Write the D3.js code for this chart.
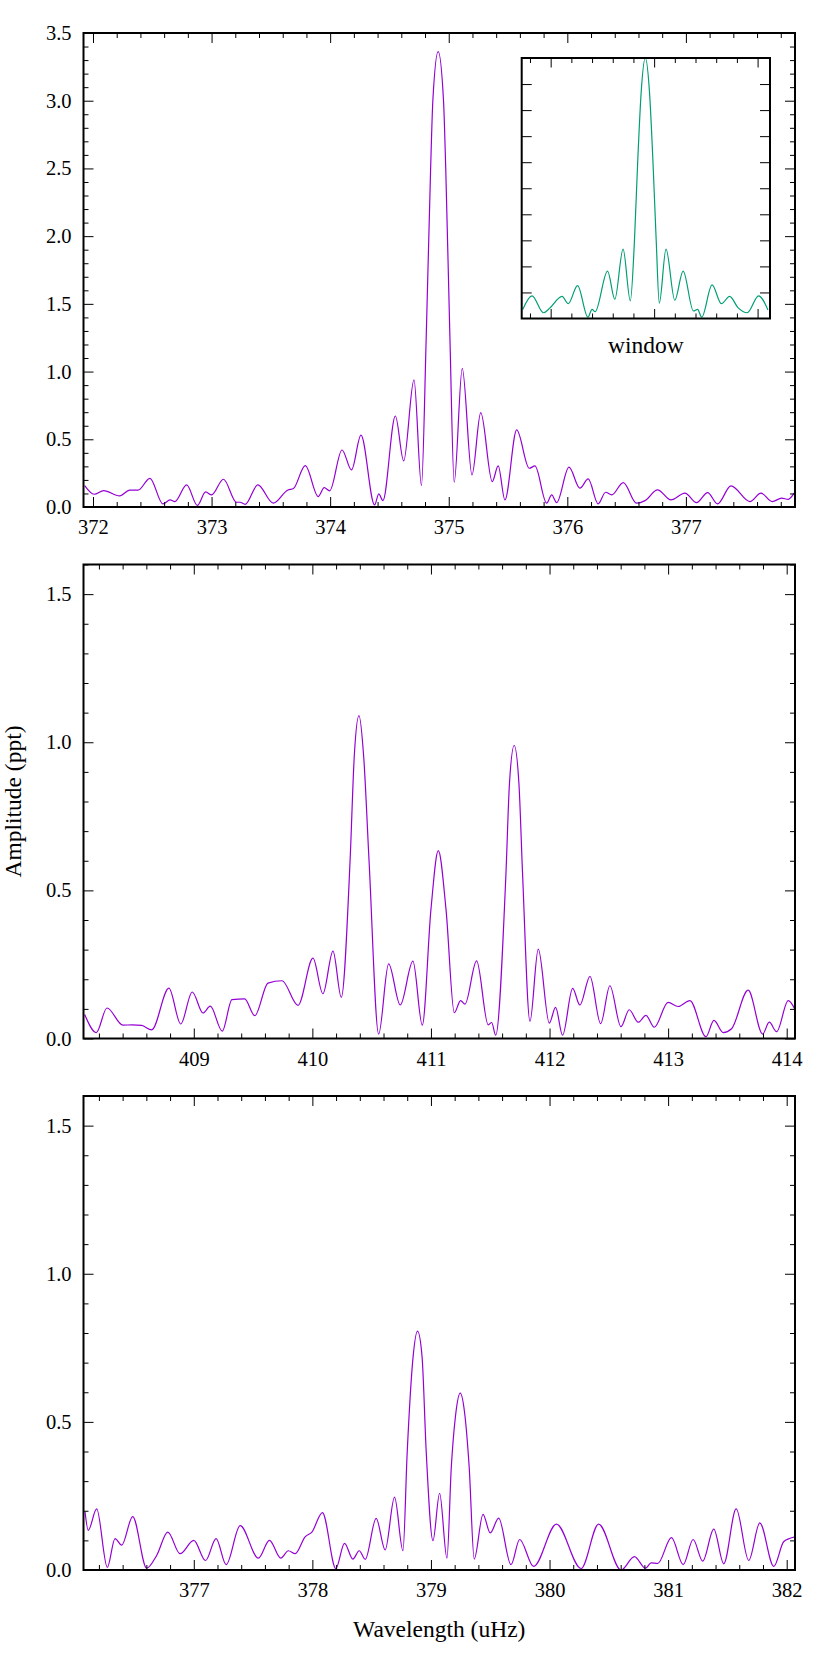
<!DOCTYPE html>
<html>
<head>
<meta charset="utf-8">
<script src="https://cdn.jsdelivr.net/npm/d3@7"></script>
<style>
  body { margin: 0; background: #fff; }
  svg text { font-family: "Liberation Serif", "DejaVu Serif", "Times New Roman", Times, serif; fill: #000; }
</style>
</head>
<body>
<div id="app"></div>
<script>
// ---- data ----
// top panel: amplitude spectrum around 374.9 uHz
const freq1 = [371.93, 372.01, 372.09, 372.225, 372.31, 372.38, 372.48, 372.59, 372.65, 372.69,
  372.79, 372.88, 372.95, 373.0, 373.10, 373.21, 373.24, 373.284, 373.39, 373.52,
  373.644, 373.69, 373.79, 373.90, 373.95, 373.996, 374.10, 374.18, 374.26, 374.375,
  374.41, 374.445, 374.55, 374.62, 374.707, 374.77, 374.81, 374.847, 374.866, 374.911,
  374.956, 374.975, 375.01, 375.046, 375.114, 375.196, 375.27, 375.367, 375.417, 375.474,
  375.573, 375.679, 375.727, 375.826, 375.868, 375.91, 376.014, 376.106, 376.176, 376.26,
  376.323, 376.374, 376.472, 376.584, 376.655, 376.761, 376.874, 376.992, 377.09, 377.183,
  377.267, 377.38, 377.54, 377.633, 377.728, 377.807, 377.863, 377.913];
const amp1 = [0.158, 0.094, 0.121, 0.082, 0.124, 0.124, 0.212, 0.023, 0.052, 0.04,
  0.163, 0.012, 0.111, 0.089, 0.205, 0.035, 0.035, 0.02, 0.163, 0.028,
  0.126, 0.136, 0.306, 0.077, 0.143, 0.119, 0.421, 0.274, 0.53, 0.015,
  0.097, 0.047, 0.672, 0.34, 0.938, 0.158, 1.25, 2.49, 3.0, 3.363,
  3.0, 2.49, 1.25, 0.183, 1.024, 0.237, 0.697, 0.188, 0.303, 0.052,
  0.569, 0.286, 0.303, 0.028, 0.089, 0.032, 0.294, 0.139, 0.207, 0.023,
  0.109, 0.089, 0.18, 0.028, 0.047, 0.126, 0.052, 0.102, 0.032, 0.106,
  0.023, 0.156, 0.04, 0.102, 0.04, 0.065, 0.057, 0.102];

// middle panel: triplet around 411 uHz
const freq2 = [408.08, 408.178, 408.268, 408.403, 408.48, 408.56, 408.645, 408.79, 408.89, 408.987,
  409.078, 409.139, 409.24, 409.322, 409.429, 409.514, 409.626, 409.744, 409.879, 410.005,
  410.089, 410.174, 410.244, 410.318, 410.353, 410.393, 410.433, 410.478, 410.559, 410.643,
  410.741, 410.848, 410.927, 411.0, 411.062, 411.127, 411.197, 411.25, 411.287, 411.385,
  411.483, 411.512, 411.546, 411.632, 411.662, 411.702, 411.742, 411.773, 411.835, 411.905,
  411.998, 412.051, 412.11, 412.195, 412.256, 412.341, 412.431, 412.509, 412.602, 412.672,
  412.748, 412.813, 412.883, 413.0, 413.085, 413.184, 413.319, 413.386, 413.465, 413.535,
  413.675, 413.797, 413.853, 413.915, 414.013, 414.069];
const amp2 = [0.081, 0.02, 0.103, 0.045, 0.046, 0.044, 0.029, 0.17, 0.049, 0.157,
  0.086, 0.109, 0.025, 0.131, 0.134, 0.077, 0.187, 0.195, 0.112, 0.271,
  0.151, 0.295, 0.139, 0.6, 0.95, 1.09, 0.95, 0.6, 0.015, 0.252,
  0.113, 0.261, 0.045, 0.436, 0.634, 0.436, 0.087, 0.128, 0.116, 0.262,
  0.046, 0.054, 0.011, 0.552, 0.86, 0.989, 0.86, 0.552, 0.058, 0.302,
  0.052, 0.105, 0.011, 0.169, 0.113, 0.21, 0.05, 0.178, 0.04, 0.097,
  0.055, 0.078, 0.038, 0.122, 0.108, 0.128, 0.006, 0.061, 0.02, 0.033,
  0.163, 0.015, 0.055, 0.023, 0.128, 0.099];

// bottom panel: doublet around 379 uHz
const freq3 = [376.083, 376.11, 376.181, 376.271, 376.336, 376.392, 376.485, 376.603, 376.688, 376.781,
  376.884, 377.0, 377.099, 377.188, 377.273, 377.391, 377.545, 377.638, 377.734, 377.798,
  377.855, 377.939, 377.996, 378.085, 378.198, 378.271, 378.342, 378.395, 378.446, 378.538,
  378.614, 378.693, 378.764, 378.80, 378.845, 378.887, 378.925, 378.96, 379.017, 379.073,
  379.135, 379.172, 379.207, 379.247, 379.287, 379.322, 379.365, 379.439, 379.5, 379.571,
  379.675, 379.748, 379.866, 380.058, 380.266, 380.414, 380.603, 380.716, 380.809, 380.857,
  380.912, 381.028, 381.127, 381.211, 381.292, 381.385, 381.469, 381.574, 381.68, 381.773,
  381.891, 381.976, 382.074];
const amp3 = [0.196, 0.134, 0.206, 0.009, 0.106, 0.084, 0.18, 0.006, 0.05, 0.128,
  0.055, 0.1, 0.032, 0.106, 0.018, 0.15, 0.04, 0.1, 0.04, 0.065,
  0.055, 0.112, 0.128, 0.194, 0.005, 0.09, 0.037, 0.065, 0.036, 0.174,
  0.068, 0.246, 0.065, 0.40, 0.70, 0.806, 0.72, 0.40, 0.099, 0.259,
  0.04, 0.35, 0.52, 0.597, 0.52, 0.35, 0.037, 0.188, 0.125, 0.175,
  0.018, 0.103, 0.012, 0.155, 0.005, 0.155, 0.0, 0.045, 0.006, 0.024,
  0.022, 0.109, 0.018, 0.103, 0.03, 0.138, 0.021, 0.206, 0.032, 0.159,
  0.012, 0.096, 0.112];

// inset: spectral window centred on the main peak
const winFreq = [373.73, 373.82, 373.93, 373.99, 374.11, 374.17, 374.26, 374.36, 374.40, 374.43,
  374.55, 374.62, 374.70, 374.77, 374.81, 374.84, 374.875, 374.915, 374.955, 374.99,
  375.02, 375.05, 375.115, 375.2, 375.28, 375.38, 375.42, 375.46, 375.56, 375.65,
  375.73, 375.81, 375.9, 376.01, 376.10];
const winAmp = [0.035, 0.087, 0.022, 0.039, 0.085, 0.057, 0.126, 0.005, 0.035, 0.026,
  0.182, 0.074, 0.266, 0.068, 0.30, 0.59, 0.87, 1.0, 0.87, 0.59,
  0.30, 0.059, 0.266, 0.07, 0.182, 0.029, 0.035, 0.005, 0.129, 0.057,
  0.085, 0.042, 0.022, 0.087, 0.033];

// axis ranges and tick labels
const xDomains = [[371.92, 377.92], [408.07, 414.07], [376.07, 382.07]];
const yMaxes = [3.5, 1.6, 1.6];
const yLabels1 = [0, 0.5, 1.0, 1.5, 2.0, 2.5, 3.0, 3.5];
const yLabels23 = [0, 0.5, 1.0, 1.5];
const xLabels = [[372, 373, 374, 375, 376, 377], [409, 410, 411, 412, 413, 414], [377, 378, 379, 380, 381, 382]];
const winDomain = [373.72, 376.12];
const winXTicks = [374, 375, 376];

const yTitle = "Amplitude (ppt)";
const xTitle = "Wavelength (uHz)";
const insetTitle = "window";

// ---- layout ----
const width = 830, height = 1661;
const left = 83.5, right = 795;
const panelTops = [33, 564.5, 1096];
const panelH = 474;
const tickFont = 20.5, titleFont = 23.5;
const serif = '"Liberation Serif", "DejaVu Serif", "Times New Roman", Times, serif';

const svg = d3.select("#app").append("svg")
  .attr("width", width)
  .attr("height", height);

svg.append("rect").attr("width", width).attr("height", height).attr("fill", "#fff");

// tick positions on a fixed step inside a domain
function minorSteps(dom, step) {
  const n = Math.round(1 / step);
  return d3.range(Math.ceil(dom[0] * n - 1e-9), Math.floor(dom[1] * n + 1e-9) + 1).map(i => i / n);
}

function tickAxis(g, axis, transform, labelled) {
  const a = g.append("g").attr("transform", transform).call(axis);
  a.attr("font-family", serif);
  a.select(".domain").remove();
  a.selectAll("line").attr("stroke", "#000").attr("stroke-width", 1);
  a.selectAll("text").style("font-family", serif).attr("font-size", tickFont);
  if (!labelled) a.selectAll("text").remove();
  return a;
}

function drawPanel(i, freqs, amps, yMajor) {
  const top = panelTops[i], bottom = top + panelH;
  const x = d3.scaleLinear().domain(xDomains[i]).range([left, right]);
  const y = d3.scaleLinear().domain([0, yMaxes[i]]).range([bottom, top]);
  const g = svg.append("g");

  svg.append("clipPath").attr("id", "clip" + i)
    .append("rect")
    .attr("x", left).attr("y", top)
    .attr("width", right - left).attr("height", panelH);

  const line = d3.line()
    .x((d, k) => x(freqs[k]))
    .y(d => y(d))
    .curve(d3.curveMonotoneX);

  g.append("path")
    .datum(amps)
    .attr("clip-path", `url(#clip${i})`)
    .attr("fill", "none")
    .attr("stroke", "#9400d3")
    .attr("stroke-width", 1.2)
    .attr("d", line);

  const yMinor = d3.range(0, Math.round(yMaxes[i] * 10) + 1).map(k => k / 10)
    .filter(v => !yMajor.some(m => Math.abs(m - v) < 1e-9));
  const xMinor = minorSteps(xDomains[i], 0.2)
    .filter(v => Math.abs(v - Math.round(v)) > 1e-9);

  // x ticks: bottom with labels, top mirrored
  tickAxis(g, d3.axisBottom(x).tickValues(xLabels[i]).tickSize(-10).tickPadding(12.5).tickFormat(d3.format("d")),
    `translate(0,${bottom})`, true);
  tickAxis(g, d3.axisBottom(x).tickValues(xMinor).tickSize(-5).tickFormat(""), `translate(0,${bottom})`, false);
  tickAxis(g, d3.axisTop(x).tickValues(xLabels[i]).tickSize(-10).tickFormat(""), `translate(0,${top})`, false);
  tickAxis(g, d3.axisTop(x).tickValues(xMinor).tickSize(-5).tickFormat(""), `translate(0,${top})`, false);

  // y ticks: left with labels, right mirrored
  tickAxis(g, d3.axisLeft(y).tickValues(yMajor).tickSize(-10).tickPadding(12).tickFormat(d3.format(".1f")),
    `translate(${left},0)`, true);
  tickAxis(g, d3.axisLeft(y).tickValues(yMinor).tickSize(-5).tickFormat(""), `translate(${left},0)`, false);
  tickAxis(g, d3.axisRight(y).tickValues(yMajor).tickSize(-10).tickFormat(""), `translate(${right},0)`, false);
  tickAxis(g, d3.axisRight(y).tickValues(yMinor).tickSize(-5).tickFormat(""), `translate(${right},0)`, false);

  // frame
  g.append("rect")
    .attr("x", left).attr("y", top)
    .attr("width", right - left).attr("height", panelH)
    .attr("fill", "none")
    .attr("stroke", "#000")
    .attr("stroke-width", 2);
}

drawPanel(0, freq1, amp1, yLabels1);
drawPanel(1, freq2, amp2, yLabels23);
drawPanel(2, freq3, amp3, yLabels23);

// ---- inset with the spectral window ----
const ix0 = 521.7, ix1 = 770, iy0 = 58, iy1 = 318.5;
const wx = d3.scaleLinear().domain(winDomain).range([ix0, ix1]);
const wy = d3.scaleLinear().domain([0, 1]).range([iy1, iy0]);
const inset = svg.append("g");

inset.append("rect")
  .attr("x", ix0).attr("y", iy0)
  .attr("width", ix1 - ix0).attr("height", iy1 - iy0)
  .attr("fill", "#fff");

svg.append("clipPath").attr("id", "clipWin")
  .append("rect")
  .attr("x", ix0).attr("y", iy0)
  .attr("width", ix1 - ix0).attr("height", iy1 - iy0);

inset.append("path")
  .datum(winAmp)
  .attr("clip-path", "url(#clipWin)")
  .attr("fill", "none")
  .attr("stroke", "#009e73")
  .attr("stroke-width", 1.2)
  .attr("d", d3.line()
    .x((d, k) => wx(winFreq[k]))
    .y(d => wy(d))
    .curve(d3.curveMonotoneX));

const wMinor = minorSteps(winDomain, 0.2).filter(v => Math.abs(v - Math.round(v)) > 1e-9);
const wYTicks = d3.range(1, 10).map(k => k / 10);

tickAxis(inset, d3.axisBottom(wx).tickValues(winXTicks).tickSize(-9.5).tickFormat(""), `translate(0,${iy1})`, false);
tickAxis(inset, d3.axisBottom(wx).tickValues(wMinor).tickSize(-5).tickFormat(""), `translate(0,${iy1})`, false);
tickAxis(inset, d3.axisTop(wx).tickValues(winXTicks).tickSize(-9.5).tickFormat(""), `translate(0,${iy0})`, false);
tickAxis(inset, d3.axisTop(wx).tickValues(wMinor).tickSize(-5).tickFormat(""), `translate(0,${iy0})`, false);
tickAxis(inset, d3.axisLeft(wy).tickValues(wYTicks).tickSize(-10).tickFormat(""), `translate(${ix0},0)`, false);
tickAxis(inset, d3.axisRight(wy).tickValues(wYTicks).tickSize(-10).tickFormat(""), `translate(${ix1},0)`, false);

inset.append("rect")
  .attr("x", ix0).attr("y", iy0)
  .attr("width", ix1 - ix0).attr("height", iy1 - iy0)
  .attr("fill", "none")
  .attr("stroke", "#000")
  .attr("stroke-width", 2);

inset.append("text")
  .attr("x", (ix0 + ix1) / 2)
  .attr("y", 353)
  .attr("text-anchor", "middle")
  .attr("font-size", titleFont)
  .style("font-family", serif)
  .text(insetTitle);

// ---- axis titles ----
svg.append("text")
  .attr("transform", `translate(21,${(panelTops[0] + panelTops[2] + panelH) / 2}) rotate(-90)`)
  .attr("text-anchor", "middle")
  .attr("font-size", titleFont)
  .style("font-family", serif)
  .text(yTitle);

svg.append("text")
  .attr("x", (left + right) / 2)
  .attr("y", 1637)
  .attr("text-anchor", "middle")
  .attr("font-size", titleFont)
  .style("font-family", serif)
  .text(xTitle);
</script>
</body>
</html>
